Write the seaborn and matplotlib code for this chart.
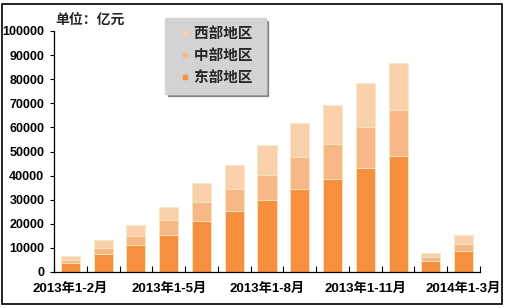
import matplotlib
matplotlib.use('Agg')
import matplotlib.pyplot as plt
import seaborn as sns
import pandas as pd
import numpy as np
from matplotlib.lines import Line2D
from matplotlib.patches import Rectangle

categories = ['2013年1-2月', '2013年1-3月', '2013年1-4月', '2013年1-5月', '2013年1-6月',
              '2013年1-7月', '2013年1-8月', '2013年1-9月', '2013年1-10月', '2013年1-11月',
              '2013年1-12月', '2014年1-2月', '2014年1-3月']
east = [3900, 7600, 11000, 15500, 21000, 25200, 29700, 34400, 38600, 43000, 48000, 4700, 8900]
central = [1100, 2500, 4100, 5900, 8000, 9200, 10700, 13200, 14700, 17300, 19100, 1400, 2800]
west = [1700, 3200, 4500, 5600, 8000, 10200, 12100, 14100, 15900, 18000, 19600, 1700, 3800]
series_names = ['东部地区', '中部地区', '西部地区']
shown_labels = ['2013年1-2月', '2013年1-5月', '2013年1-8月', '2013年1-11月', '2014年1-3月']
yticks = list(range(0, 100001, 10000))

east_c = '#F68F3E'
central_c = '#F8B886'
west_c = '#FAD1AB'
edge_c = '#F2EAC8'

sns.set_theme(style='white')
plt.rcParams['font.family'] = ['Liberation Sans', 'Noto Sans CJK SC']
plt.rcParams['font.weight'] = 'bold'

fig = plt.figure(figsize=(5.07, 3.08), dpi=100)
ax = fig.add_axes([54/507, 1-272/308, 426/507, 241/308])

df = pd.DataFrame({'cat': categories, 'east': east, 'central': central, 'west': west})
df['c2'] = df['east'] + df['central']
df['total'] = df['c2'] + df['west']

for col, color in [('total', west_c), ('c2', central_c), ('east', east_c)]:
    sns.barplot(data=df, x='cat', y=col, order=categories, color=color, saturation=1,
                width=0.58, edgecolor=edge_c, linewidth=0.6, errorbar=None, ax=ax)

ax.set_xlim(-0.5, len(categories) - 0.5)
ax.set_ylim(0, 100000)
ax.set_yticks(yticks)
ax.set_yticklabels([str(v) for v in yticks], fontsize=9, fontweight='bold')
pos = [categories.index(c) for c in shown_labels]
ax.set_xticks(pos)
ax.set_xticklabels(shown_labels, fontsize=9.5, fontweight='bold')
ax.set_xticks(np.arange(-0.5, len(categories), 1), minor=True)
ax.tick_params(axis='x', which='major', length=0, pad=8, colors='black')
ax.tick_params(axis='x', which='minor', direction='in', length=4, width=0.8, color='black', bottom=True)
ax.tick_params(axis='y', direction='out', length=3, width=0.8, pad=4, colors='black', left=True)
ax.set_xlabel('')
ax.set_ylabel('')
for s in ['top', 'right']:
    ax.spines[s].set_visible(False)
for s in ['left', 'bottom']:
    ax.spines[s].set_color('black')
    ax.spines[s].set_linewidth(0.9)

fig.text(55/507, 1-20/308, '单位：亿元', fontsize=10, fontweight='bold', va='center', ha='left')

handles = [Line2D([], [], marker='s', linestyle='none', markersize=3.5, color=c)
           for c in [west_c, central_c, east_c]]
leg = fig.legend(handles, [n + ' ' for n in ['西部地区', '中部地区', '东部地区']],
                 loc='upper left',
                 bbox_to_anchor=(165/507, 1-18/308), frameon=True, fancybox=False,
                 shadow=True, facecolor='#D3D3D3', edgecolor='#D3D3D3', framealpha=1,
                 prop={'size': 10.5, 'weight': 'bold'}, labelspacing=0.55, handlelength=1.6,
                 handletextpad=-0.2, borderpad=0.6, borderaxespad=0)

fig.patches.append(Rectangle((2/507, 4/308), 500/507, 300/308, transform=fig.transFigure,
                             fill=False, edgecolor='black', linewidth=1.2))

fig.savefig('out.png', dpi=100)
